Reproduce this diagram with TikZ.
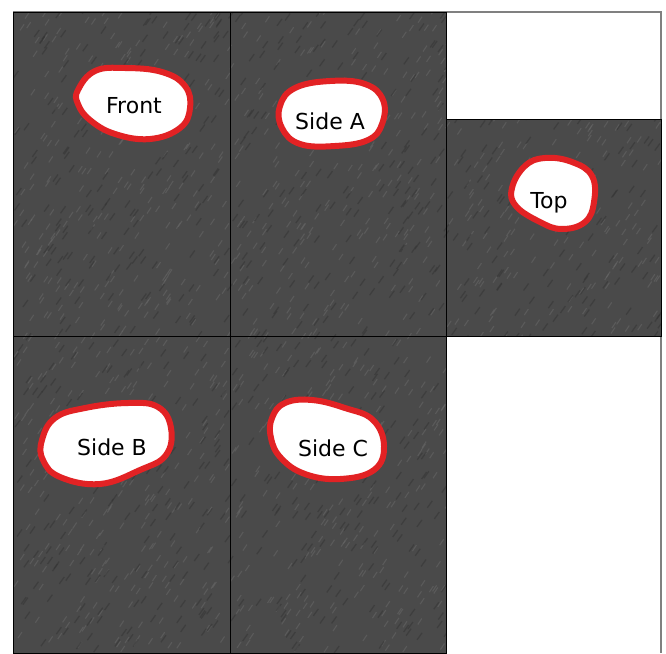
\documentclass[tikz,border=0pt]{standalone}
\usepackage{fontspec}
\setmainfont{DejaVu Sans}
\usetikzlibrary{positioning}

\definecolor{stone}{RGB}{74,74,74}
\definecolor{stonelight}{RGB}{104,104,104}
\definecolor{stonedark}{RGB}{52,52,52}
\definecolor{blobred}{RGB}{226,34,36}

\tikzset{
    panel/.style={fill=stone, draw=black, line width=1pt},
    blob/.style={draw=blobred, fill=white, line width=6pt, line join=round},
    label/.style={font=\fontsize{22}{26}\selectfont, text=black}
}

\begin{document}
\begin{tikzpicture}[x=1pt, y=-1pt]
    \useasboundingbox (0,0) rectangle (666,653);

    % Outer frame
    \draw[gray, line width=1.2pt] (13,12) -- (661,12) -- (661,653);

    % Panels
    \fill[stone] (13,12) rectangle (446,653);
    \fill[stone] (446,119) rectangle (661,336);

    % Stone grain
    \begin{scope}
        \clip (13,12) rectangle (446,653) (446,119) rectangle (661,336);
        \pgfmathsetseed{4242}
        \foreach \i in {1,...,1400} {
            \pgfmathsetmacro{\gx}{13+648*rnd}
            \pgfmathsetmacro{\gy}{12+641*rnd}
            \draw[stonelight, line width=1.1pt, opacity=0.55] (\gx,\gy) -- ++(4,-6);
        }
        \foreach \i in {1,...,1000} {
            \pgfmathsetmacro{\gx}{13+648*rnd}
            \pgfmathsetmacro{\gy}{12+641*rnd}
            \draw[stonedark, line width=1.3pt, opacity=0.5] (\gx,\gy) -- ++(5,-7);
        }
    \end{scope}

    \draw[black, line width=1pt] (13,12) rectangle (230,336);
    \draw[black, line width=1pt] (230,12) rectangle (446,336);
    \draw[black, line width=1pt] (446,119) rectangle (661,336);
    \draw[black, line width=1pt] (13,336) rectangle (230,653);
    \draw[black, line width=1pt] (230,336) rectangle (446,653);

    % Front
    \draw[blob] plot[smooth cycle, tension=0.7] coordinates {
        (78,90) (95,71) (125,68) (162,72) (185,86) (190,108)
        (180,128) (150,139) (115,134) (90,120) (78,104)};
    \node[label] (front) at (134,106) {Front};

    % Side A
    \draw[blob] plot[smooth cycle, tension=0.7] coordinates {
        (280,106) (295,88) (330,81) (365,84) (383,100) (382,124)
        (368,140) (335,146) (300,144) (282,128)};
    \node[label] (sideA) at (330,121) {Side A};

    % Top
    \draw[blob] plot[smooth cycle, tension=0.7] coordinates {
        (512,188) (525,166) (545,158) (572,162) (592,176) (594,202)
        (585,222) (562,229) (540,222) (516,206)};
    \node[label] (top) at (549,203) {Top};

    % Side B
    \draw[blob] plot[smooth cycle, tension=0.7] coordinates {
        (42,440) (55,418) (85,408) (128,403) (158,407) (171,428)
        (166,455) (140,470) (100,484) (60,477) (43,460)};
    \node[label] (sideB) at (112,447) {Side B};

    % Side C
    \draw[blob] plot[smooth cycle, tension=0.7] coordinates {
        (272,418) (285,403) (312,400) (345,408) (373,420) (384,446)
        (374,470) (340,479) (305,474) (281,458) (271,438)};
    \node[label] (sideC) at (333,448) {Side C};
\end{tikzpicture}
\end{document}
